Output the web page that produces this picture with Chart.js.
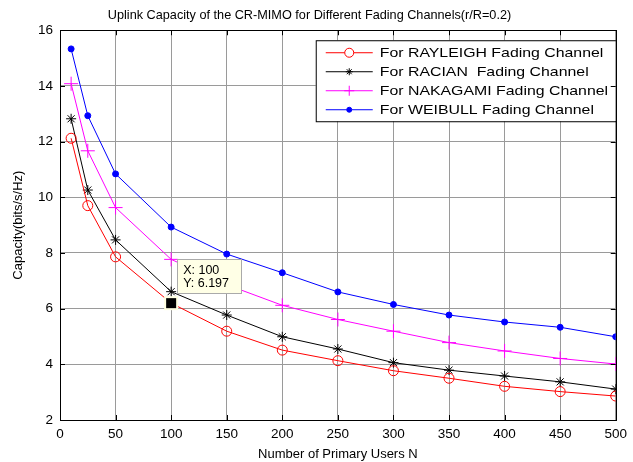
<!DOCTYPE html>
<html>
<head>
<meta charset="utf-8">
<script src="https://cdn.jsdelivr.net/npm/chart.js@4.4.1/dist/chart.umd.min.js"></script>
<style>
  html, body { margin: 0; padding: 0; background: #fff; }
  #wrap { width: 633px; height: 462px; position: relative; }
</style>
</head>
<body>
<div id="wrap"><canvas id="cap"></canvas></div>
<script>
// number of primary users
const users = [10, 25, 50, 100, 150, 200, 250, 300, 350, 400, 450, 500];

// capacity (bits/s/Hz) per fading model
const rayleigh = [12.12, 9.70, 7.86, 6.197, 5.19, 4.51, 4.13, 3.77, 3.50, 3.21, 3.02, 2.86];
const racian   = [12.82, 10.26, 8.47, 6.61, 5.77, 4.99, 4.55, 4.06, 3.79, 3.58, 3.37, 3.11];
const nakagami = [14.08, 11.67, 9.63, 7.77, 6.86, 6.12, 5.61, 5.19, 4.78, 4.48, 4.21, 4.01];
const weibull  = [15.33, 12.93, 10.84, 8.93, 7.96, 7.29, 6.60, 6.15, 5.77, 5.52, 5.33, 4.99];

const seriesNames = [
  'For RAYLEIGH Fading Channel',
  'For RACIAN  Fading Channel',
  'For NAKAGAMI Fading Channel',
  'For WEIBULL Fading Channel'
];

const xTicks = [0, 50, 100, 150, 200, 250, 300, 350, 400, 450, 500];
const yTicks = [2, 4, 6, 8, 10, 12, 14, 16];

// data tip on the Rayleigh curve
const tipX = 100;
const tipY = 6.197;

const FONT = 'Arial, "Liberation Sans", sans-serif';

function pts(arr) {
  return users.map((u, i) => ({ x: u, y: arr[i] }));
}

// legend box drawn inside the axes, like matlab
const legendBox = {
  id: 'legendBox',
  afterDatasetsDraw(chart) {
    const c = chart.ctx;
    const a = chart.chartArea;
    const w = 300, h = 81;
    const x0 = a.right - w, y0 = a.top + 10;
    c.save();
    c.fillStyle = '#fff';
    c.fillRect(x0, y0, w, h);
    c.strokeStyle = '#000';
    c.lineWidth = 1;
    c.strokeRect(x0 + 0.5, y0 + 0.5, w, h);
    c.font = '13px ' + FONT;
    c.textBaseline = 'middle';
    chart.data.datasets.forEach((ds, i) => {
      const y = y0 + 12.5 + i * 19;
      c.strokeStyle = ds.borderColor;
      c.lineWidth = 1;
      c.beginPath();
      c.moveTo(x0 + 10, y);
      c.lineTo(x0 + 57, y);
      c.stroke();
      Chart.helpers.drawPoint(c, {
        pointStyle: ds.pointStyle,
        radius: ds.legendRadius,
        borderWidth: 1
      }, x0 + 33.5, y);
      if (ds.pointBackgroundColor !== 'transparent') {
        c.fillStyle = ds.pointBackgroundColor;
        c.fill();
      }
      // the reference legend text is drawn wide
      c.save();
      c.translate(x0 + 64, y + 0.5);
      c.scale(1.22, 1);
      c.fillStyle = '#000';
      c.fillText(ds.label, 0, 0);
      c.restore();
    });
    c.restore();
  }
};

// box frame, inner ticks and the data tip
const frame = {
  id: 'frame',
  afterDraw(chart) {
    const c = chart.ctx;
    const a = chart.chartArea;
    const xs = chart.scales.x, ys = chart.scales.y;
    c.save();
    c.strokeStyle = '#000';
    c.lineWidth = 1;
    c.strokeRect(Math.round(a.left) + 0.5, Math.round(a.top) + 0.5,
      Math.round(a.right - a.left), Math.round(a.bottom - a.top));
    c.beginPath();
    xTicks.forEach(v => {
      const px = Math.round(xs.getPixelForValue(v)) + 0.5;
      c.moveTo(px, a.bottom); c.lineTo(px, a.bottom - 5);
      c.moveTo(px, a.top); c.lineTo(px, a.top + 5);
    });
    yTicks.forEach(v => {
      const py = Math.round(ys.getPixelForValue(v)) + 0.5;
      c.moveTo(a.left, py); c.lineTo(a.left + 5, py);
      c.moveTo(a.right, py); c.lineTo(a.right - 5, py);
    });
    c.stroke();

    const px = xs.getPixelForValue(tipX);
    const py = ys.getPixelForValue(tipY);
    c.fillStyle = '#ffffe1';
    c.fillRect(px - 7, py - 7, 14, 14);
    c.fillStyle = '#000';
    c.fillRect(px - 5, py - 5, 10, 10);

    const bx = px + 6, by = py - 44;
    c.fillStyle = '#ffffe6';
    c.fillRect(bx, by, 64, 34);
    c.strokeStyle = '#aaa';
    c.strokeRect(Math.round(bx) + 0.5, Math.round(by) + 0.5, 64, 34);
    c.fillStyle = '#000';
    c.font = '12.5px ' + FONT;
    c.textBaseline = 'middle';
    c.fillText('X: ' + tipX, bx + 6, by + 11);
    c.fillText('Y: ' + tipY, bx + 6, by + 24);
    c.restore();
  }
};

new Chart(document.getElementById('cap'), {
  type: 'line',
  data: {
    datasets: [
      { label: seriesNames[0], data: pts(rayleigh), borderColor: '#ff0000',
        pointStyle: 'circle', pointRadius: 5, legendRadius: 4.5, pointBorderColor: '#ff0000',
        pointBackgroundColor: 'transparent' },
      { label: seriesNames[1], data: pts(racian), borderColor: '#000000',
        pointStyle: 'star', pointRadius: 5, legendRadius: 3.5, pointBorderColor: '#000000',
        pointBackgroundColor: 'transparent' },
      { label: seriesNames[2], data: pts(nakagami), borderColor: '#ff00ff',
        pointStyle: 'cross', pointRadius: 7, legendRadius: 5, pointBorderColor: '#ff00ff',
        pointBackgroundColor: 'transparent' },
      { label: seriesNames[3], data: pts(weibull), borderColor: '#0000ff',
        pointStyle: 'circle', pointRadius: 3, legendRadius: 2.5, pointBorderColor: '#0000ff',
        pointBackgroundColor: '#0000ff' }
    ].map(d => Object.assign({ borderWidth: 1, pointBorderWidth: 1, tension: 0, fill: false }, d))
  },
  options: {
    responsive: true,
    maintainAspectRatio: false,
    animation: false,
    layout: { padding: { left: 0, right: 14, top: 2, bottom: 0 } },
    plugins: {
      legend: { display: false },
      tooltip: { enabled: false },
      title: {
        display: true,
        text: 'Uplink Capacity of the CR-MIMO for Different Fading Channels(r/R=0.2)',
        color: '#000',
        font: { family: FONT, size: 12.7, weight: 'normal' },
        padding: { top: 6, bottom: 7 }
      }
    },
    scales: {
      x: {
        type: 'linear', min: 0, max: 500,
        afterBuildTicks: s => { s.ticks = xTicks.map(v => ({ value: v })); },
        afterFit: s => { s.height = 42; },
        grid: { color: '#9a9a9a', drawTicks: false },
        border: { display: false },
        ticks: { color: '#000', padding: 6, font: { family: FONT, size: 13.5 } },
        title: { display: true, text: 'Number of Primary Users N', color: '#000',
          font: { family: FONT, size: 13 }, padding: { top: 0, bottom: 0 } }
      },
      y: {
        type: 'linear', min: 2, max: 16,
        afterBuildTicks: s => { s.ticks = yTicks.map(v => ({ value: v })); },
        afterFit: s => { s.width = 60; },
        grid: { color: '#9a9a9a', drawTicks: false },
        border: { display: false },
        ticks: { color: '#000', padding: 7, font: { family: FONT, size: 13.5 } },
        title: { display: true, text: 'Capacity(bits/s/Hz)', color: '#000',
          font: { family: FONT, size: 13 }, padding: { top: 11, bottom: 0 } }
      }
    }
  },
  plugins: [legendBox, frame]
});
</script>
</body>
</html>
